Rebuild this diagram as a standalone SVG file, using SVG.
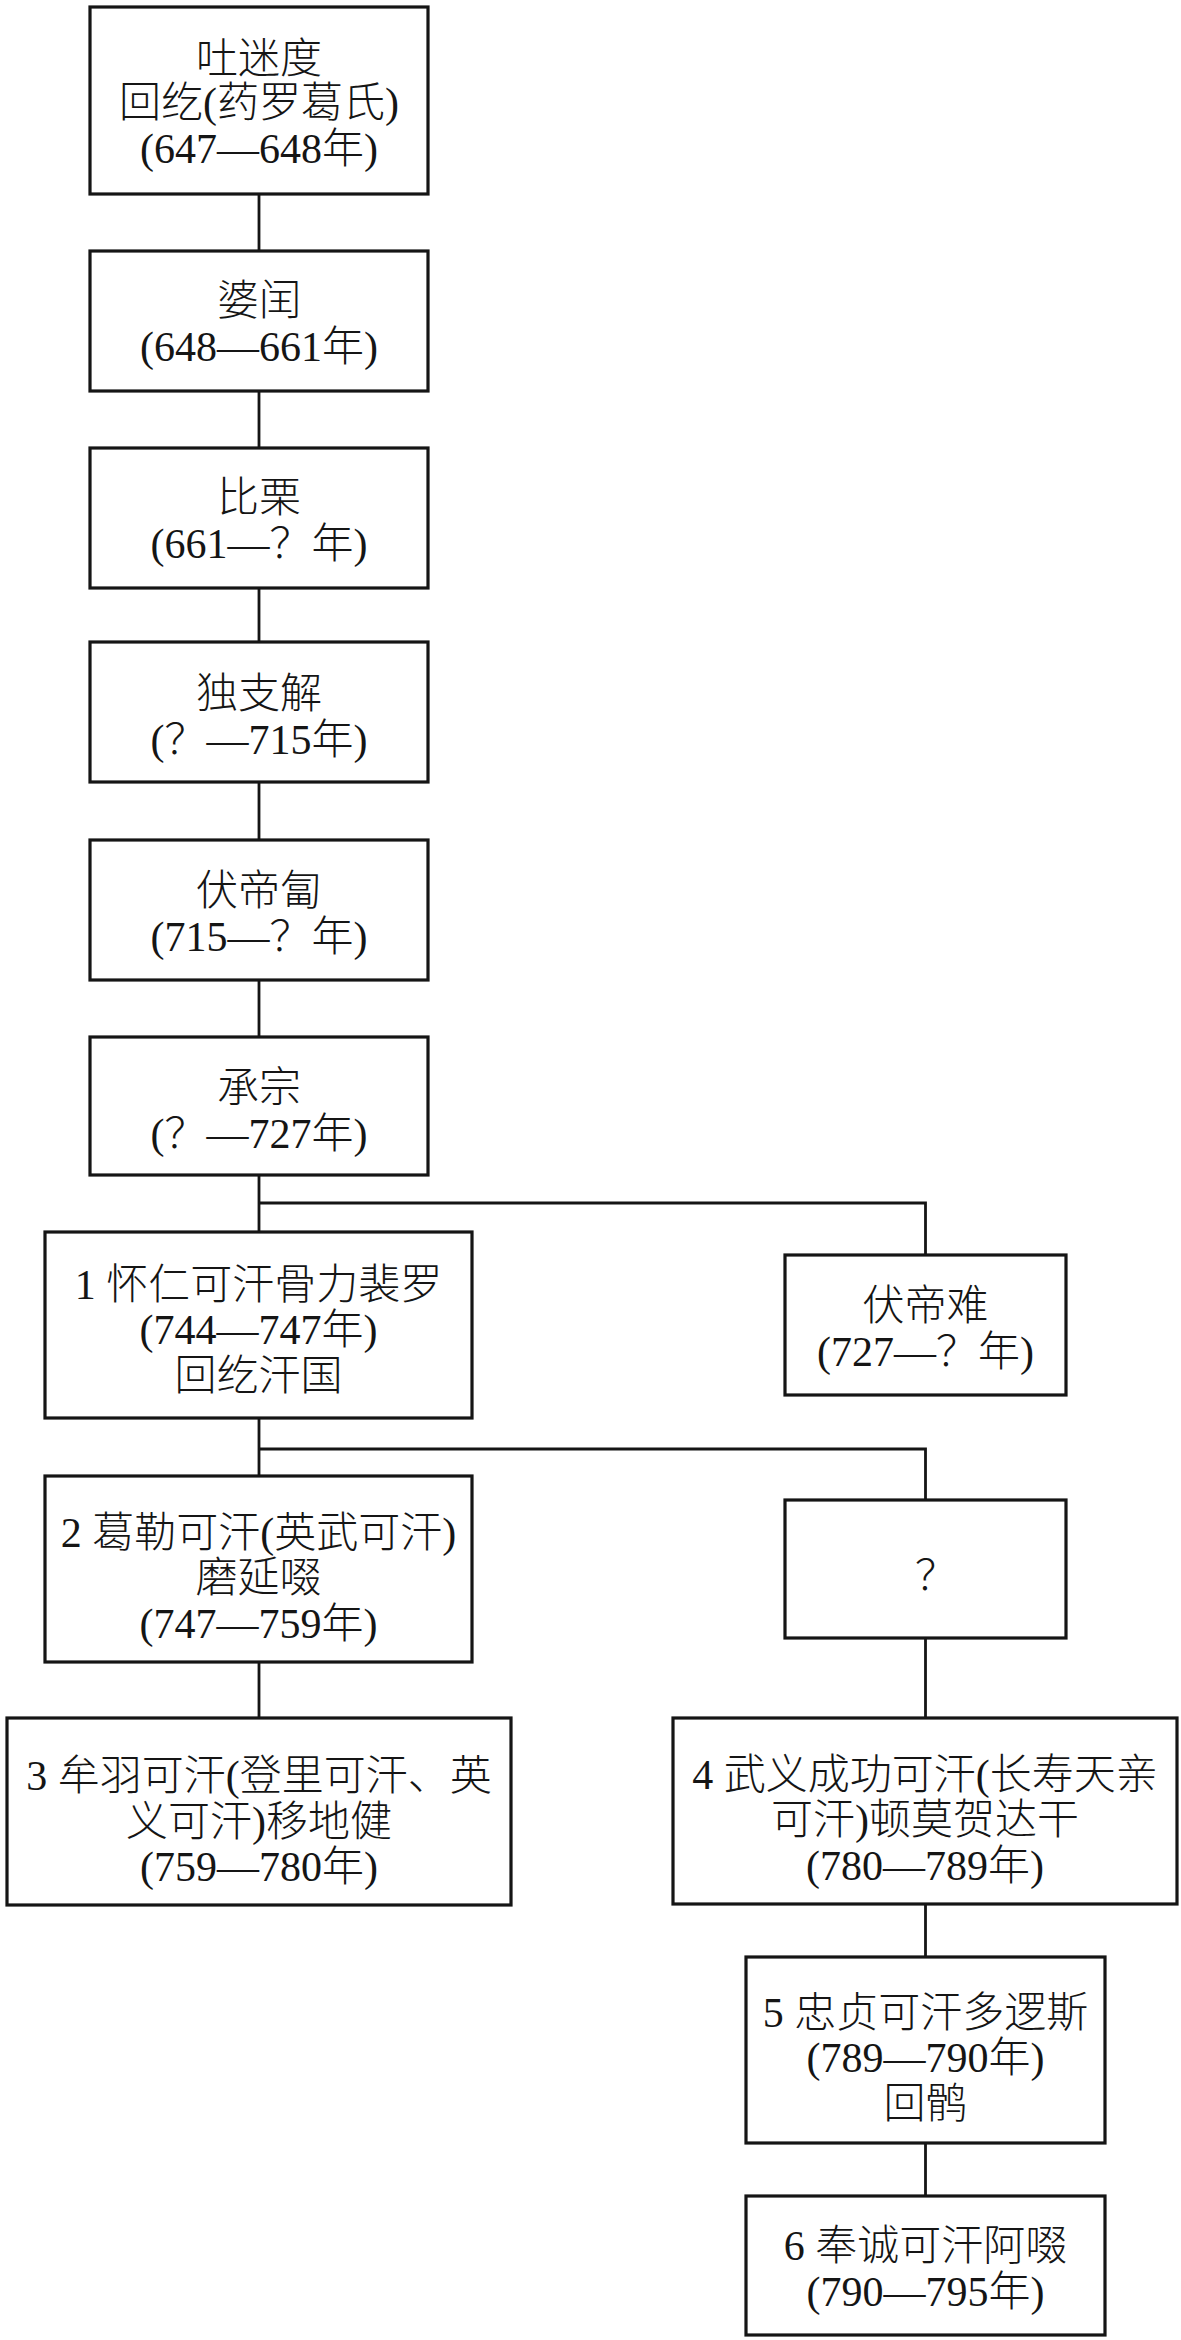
<svg xmlns="http://www.w3.org/2000/svg" width="1181" height="2340" viewBox="0 0 1181 2340">
<style>
.box{fill:#fff;stroke:#151515;stroke-width:3.2}
.conn{fill:none;stroke:#151515;stroke-width:2.8}
text{font-family:"Noto Sans CJK SC","Liberation Serif",sans-serif;font-size:42px;font-weight:300;fill:#151515;text-anchor:middle}
.l{font-family:"Liberation Serif",serif;font-weight:400}
</style>
<rect width="1181" height="2340" fill="#fff"/>
<g id="connectors">
<path class="conn" d="M259 194V251M259 391V448M259 588V642M259 782V840M259 980V1037"/>
<path class="conn" d="M259 1175V1232M259 1203H925.5V1255"/>
<path class="conn" d="M259 1418V1476M259 1449H925.5V1500"/>
<path class="conn" d="M259 1662V1718M925.5 1638V1718M925.5 1904V1957M925.5 2143V2196"/>
</g>
<g id="n-tumidu">
<rect class="box" x="90" y="7" width="338" height="187"/>
<text x="259" y="73">吐迷度</text>
<text x="259" y="117">回纥<tspan class="l">(</tspan>药罗葛氏<tspan class="l">)</tspan></text>
<text x="259" y="163"><tspan class="l">(647—648</tspan>年<tspan class="l">)</tspan></text>
</g>
<g id="n-porun">
<rect class="box" x="90" y="251" width="338" height="140"/>
<text x="259" y="315">婆闰</text>
<text x="259" y="361"><tspan class="l">(648—661</tspan>年<tspan class="l">)</tspan></text>
</g>
<g id="n-bili">
<rect class="box" x="90" y="448" width="338" height="140"/>
<text x="259" y="512">比栗</text>
<text x="259" y="558"><tspan class="l">(661—</tspan>？年<tspan class="l">)</tspan></text>
</g>
<g id="n-duzhijie">
<rect class="box" x="90" y="642" width="338" height="140"/>
<text x="259" y="708">独支解</text>
<text x="259" y="754"><tspan class="l">(</tspan>？<tspan class="l">—715</tspan>年<tspan class="l">)</tspan></text>
</g>
<g id="n-fudifu">
<rect class="box" x="90" y="840" width="338" height="140"/>
<text x="259" y="905">伏帝匐</text>
<text x="259" y="951"><tspan class="l">(715—</tspan>？年<tspan class="l">)</tspan></text>
</g>
<g id="n-chengzong">
<rect class="box" x="90" y="1037" width="338" height="138"/>
<text x="259" y="1102">承宗</text>
<text x="259" y="1148"><tspan class="l">(</tspan>？<tspan class="l">—727</tspan>年<tspan class="l">)</tspan></text>
</g>
<g id="n-huairen">
<rect class="box" x="45" y="1232" width="427" height="186"/>
<text x="258.5" y="1299"><tspan class="l">1 </tspan>怀仁可汗骨力裴罗</text>
<text x="258.5" y="1344"><tspan class="l">(744—747</tspan>年<tspan class="l">)</tspan></text>
<text x="258.5" y="1390">回纥汗国</text>
</g>
<g id="n-fudinan">
<rect class="box" x="785" y="1255" width="281" height="140"/>
<text x="925.5" y="1320">伏帝难</text>
<text x="925.5" y="1366"><tspan class="l">(727—</tspan>？年<tspan class="l">)</tspan></text>
</g>
<g id="n-gele">
<rect class="box" x="45" y="1476" width="427" height="186"/>
<text x="258.5" y="1547"><tspan class="l">2 </tspan>葛勒可汗<tspan class="l">(</tspan>英武可汗<tspan class="l">)</tspan></text>
<text x="258.5" y="1592">磨延啜</text>
<text x="258.5" y="1638"><tspan class="l">(747—759</tspan>年<tspan class="l">)</tspan></text>
</g>
<g id="n-unknown">
<rect class="box" x="785" y="1500" width="281" height="138"/>
<text x="936" y="1590">？</text>
</g>
<g id="n-mouyu">
<rect class="box" x="7" y="1718" width="504" height="187"/>
<text x="259" y="1790"><tspan class="l">3 </tspan>牟羽可汗<tspan class="l">(</tspan>登里可汗、英</text>
<text x="259" y="1836">义可汗<tspan class="l">)</tspan>移地健</text>
<text x="259" y="1881"><tspan class="l">(759—780</tspan>年<tspan class="l">)</tspan></text>
</g>
<g id="n-wuyi">
<rect class="box" x="673" y="1718" width="504" height="186"/>
<text x="925" y="1789"><tspan class="l">4 </tspan>武义成功可汗<tspan class="l">(</tspan>长寿天亲</text>
<text x="925" y="1834">可汗<tspan class="l">)</tspan>顿莫贺达干</text>
<text x="925" y="1880"><tspan class="l">(780—789</tspan>年<tspan class="l">)</tspan></text>
</g>
<g id="n-zhongzhen">
<rect class="box" x="746" y="1957" width="359" height="186"/>
<text x="925.5" y="2027"><tspan class="l">5 </tspan>忠贞可汗多逻斯</text>
<text x="925.5" y="2072"><tspan class="l">(789—790</tspan>年<tspan class="l">)</tspan></text>
<text x="925.5" y="2118">回鹘</text>
</g>
<g id="n-fengcheng">
<rect class="box" x="746" y="2196" width="359" height="139"/>
<text x="925.5" y="2260"><tspan class="l">6 </tspan>奉诚可汗阿啜</text>
<text x="925.5" y="2306"><tspan class="l">(790—795</tspan>年<tspan class="l">)</tspan></text>
</g>
</svg>
